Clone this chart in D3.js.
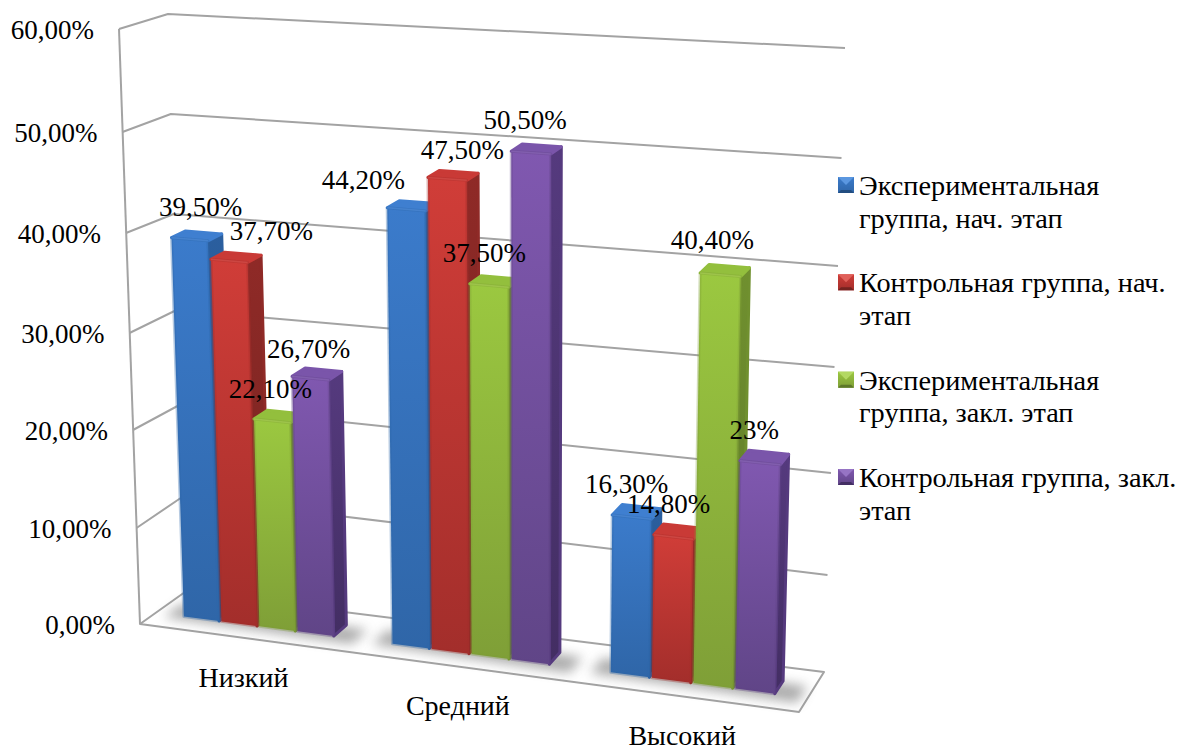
<!DOCTYPE html>
<html><head><meta charset="utf-8">
<script src="https://cdn.jsdelivr.net/npm/d3@7"></script>
<style>
html,body{margin:0;padding:0;background:#fff}
text{font-family:"Liberation Serif",serif;fill:#000}
</style></head><body>
<svg id="c" width="1178" height="749"></svg>
<script>
// ---- data ----
const categories = ["Низкий", "Средний", "Высокий"];
const seriesNames = ["Экспериментальная группа, нач. этап", "Контрольная группа, нач. этап", "Экспериментальная группа, закл. этап", "Контрольная группа, закл. этап"];
const legendLines = [["Экспериментальная", "группа, нач. этап"], ["Контрольная группа, нач.", "этап"], ["Экспериментальная", "группа, закл. этап"], ["Контрольная группа, закл.", "этап"]];
const expStart = [39.5, 44.2, 16.3];
const ctrlStart = [37.7, 47.5, 14.8];
const expEnd = [22.1, 37.5, 40.4];
const ctrlEnd = [26.7, 50.5, 23];
const expStartLabels = ["39,50%", "44,20%", "16,30%"];
const ctrlStartLabels = ["37,70%", "47,50%", "14,80%"];
const expEndLabels = ["22,10%", "37,50%", "40,40%"];
const ctrlEndLabels = ["26,70%", "50,50%", "23%"];
const tickValues = [0, 10, 20, 30, 40, 50, 60];
const tickLabels = ["0,00%", "10,00%", "20,00%", "30,00%", "40,00%", "50,00%", "60,00%"];

const seriesValues = [expStart, ctrlStart, expEnd, ctrlEnd];
const seriesLabels = [expStartLabels, ctrlStartLabels, expEndLabels, ctrlEndLabels];

// ---- styling / layout ----
const palette = [
 {top:"#3f7fd0",hi:"#5b97e0",a:"#3b7bcb",b:"#2f66a8",side:"#2b5f9f",sideB:"#224d80"},
 {top:"#c93a36",hi:"#e0605a",a:"#d03d38",b:"#a32e2b",side:"#8f2a27",sideB:"#742320"},
 {top:"#93bf3d",hi:"#b3d862",a:"#9bc840",b:"#7f9f37",side:"#70902f",sideB:"#5d7828"},
 {top:"#7a55aa",hi:"#9674c4",a:"#8058b0",b:"#604587",side:"#553a7e",sideB:"#432e63"}
];
const gridColor = "#a3a3a3";
const fontSize = 27;
const catFont = 28;
const legendFont = 28.3;

// wall geometry as scales of the value
const fx = d3.scaleLinear().domain([0,60]).range([140,119]);
const fy = d3.scaleLinear().domain(tickValues).range([624,528,430,333,233,132,29]);
const blx = d3.scaleLinear().domain([0,60]).range([185,168]);
const bly = d3.scaleLinear().domain(tickValues).range([592,497,405,310,214,114,14]);
const brx = d3.scaleLinear().domain([0,60]).range([824,845]);
const bry = d3.scaleLinear().domain(tickValues).range([672,575,473,367,266,158,48]);
const FL=[140,624], FR=[799,712], BL=[185,592], BR=[824,672];

function floorPt(u,d){
  const a=[FL[0]+(FR[0]-FL[0])*u, FL[1]+(FR[1]-FL[1])*u];
  const b=[BL[0]+(BR[0]-BL[0])*u, BL[1]+(BR[1]-BL[1])*u];
  return [a[0]+(b[0]-a[0])*d, a[1]+(b[1]-a[1])*d];
}
const warp = u => 0.931*u + 0.0675*u*u;
const lean = d3.scaleLinear().domain([0,1]).range([-0.34,0.27]);
const unit = d3.scaleLinear().domain([0,1]).range([9.5,10.2]);
// perspective correction of bar height along the value axis
const heightFix = d3.scaleLinear().domain([0,15,23,27,38,42,48,51,60]).range([0,-7,-7,-5,-2,0,2,5,5]);
const dF=0.35, dB=0.67;
const depthFlatten = 17/60; // the floor depth looks shallower higher up the wall
function barPt(u,d,v){
  const p=floorPt(u,d);
  return [p[0]+lean(u)*v, p[1]-unit(u)*v-heightFix(v)+(d-dB)*depthFlatten*v];
}

const catBand = d3.scaleBand().domain(d3.range(categories.length)).range([0,1]).paddingInner(0.265).paddingOuter(0.1325);
const serBand = d3.scaleBand().domain(d3.range(seriesValues.length)).range([0,catBand.bandwidth()]);

const svg=d3.select("#c");
const defs=svg.append("defs");
const blur=defs.append("filter").attr("id","sh").attr("x","-30%").attr("y","-60%").attr("width","160%").attr("height","220%");
blur.append("feGaussianBlur").attr("stdDeviation",6);
palette.forEach((p,i)=>{
  const g=defs.append("linearGradient").attr("id","f"+i).attr("x1",0).attr("x2",0).attr("y1",0).attr("y2",1);
  g.append("stop").attr("offset",0).attr("stop-color",p.a);
  g.append("stop").attr("offset",1).attr("stop-color",p.b);
  const s=defs.append("linearGradient").attr("id","s"+i).attr("x1",0).attr("x2",0).attr("y1",0).attr("y2",1);
  s.append("stop").attr("offset",0).attr("stop-color",p.side);
  s.append("stop").attr("offset",1).attr("stop-color",p.sideB);
});
const poly=d3.line();
const closed=pts=>poly(pts)+"Z";

// walls
const grid=svg.append("g").attr("fill","none").attr("stroke",gridColor).attr("stroke-width",2).attr("stroke-linejoin","round");
tickValues.forEach(v=>{
  if(v===0) return;
  grid.append("path").attr("d",poly([[fx(v),fy(v)],[blx(v),bly(v)],[brx(v),bry(v)]]));
});
grid.append("path").attr("d",poly([[fx(60),fy(60)],[fx(0),fy(0)]]));
grid.append("path").attr("d",closed([FL,FR,BR,BL]));

// shadows
categories.forEach((c,i)=>{
  const u0=warp(catBand(i)-0.025), u1=warp(catBand(i)+catBand.bandwidth()+0.035);
  svg.append("path").attr("d",closed([floorPt(u0,dF-0.08),floorPt(u1,dF-0.14),floorPt(u1,dB-0.05),floorPt(u0,dB)]))
    .attr("fill","#666").attr("opacity",0.55).attr("filter","url(#sh)");
});

// bars
const labelNudge=[
 [[11,-27],[-43,-24],[-5,-26]],
 [[42,-24],[15,-24],[-5,-25]],
 [[-2,-25],[-5,-27],[-8,-29]],
 [[-2,-23],[-6,-28],[-6,-26]]
];
const labelQueue=[];
categories.forEach((c,i)=>{
  seriesValues.forEach((vals,j)=>{
    const v=vals[i], p=palette[j];
    const u0=warp(catBand(i)+serBand(j)+0.002), u1=warp(catBand(i)+serBand(j)+serBand.bandwidth()-0.002);
    const g=svg.append("g").attr("stroke-linejoin","round").attr("stroke-width",3);
    const side=[barPt(u1,dF,0),barPt(u1,dB,0),barPt(u1,dB,v),barPt(u1,dF,v)];
    const top=[barPt(u0,dF,v),barPt(u1,dF,v),barPt(u1,dB,v),barPt(u0,dB,v)];
    const front=[barPt(u0,dF,0),barPt(u1,dF,0),barPt(u1,dF,v),barPt(u0,dF,v)];
    g.append("path").attr("d",closed(side)).attr("fill","url(#s"+j+")").attr("stroke",p.side);
    g.append("path").attr("d",closed(top)).attr("fill",p.top).attr("stroke",p.top);
    g.append("path").attr("d",closed(front)).attr("fill","url(#f"+j+")").attr("stroke",p.b).attr("stroke-opacity",0.35);
    g.append("path").attr("d",poly([barPt(u0,dF,v),barPt(u1,dF,v)])).attr("stroke",p.hi).attr("stroke-width",1.5).attr("stroke-opacity",0.4).attr("fill","none");
    const back=barPt((u0+u1)/2,dB,v), mid=barPt((u0+u1)/2,dF,v), n=labelNudge[j][i];
    labelQueue.push({x:mid[0]+n[0],y:mid[1]+(dB-dF)*depthFlatten*v+n[1],t:seriesLabels[j][i]});
  });
});

// value labels
svg.append("g").selectAll("text").data(labelQueue).join("text")
  .attr("x",d=>d.x).attr("y",d=>d.y).attr("text-anchor","middle").attr("font-size",fontSize).text(d=>d.t);

// axis labels
svg.append("g").selectAll("text").data(tickValues).join("text")
  .attr("x",v=>fx(v)-25).attr("y",v=>fy(v)+10).attr("text-anchor","end").attr("font-size",fontSize)
  .text((v,i)=>tickLabels[i]);

const catGap=49;
svg.append("g").selectAll("text").data(categories).join("text")
  .attr("x",(c,i)=>floorPt(warp(catBand(i)+catBand.bandwidth()/2),0)[0])
  .attr("y",(c,i)=>floorPt(warp(catBand(i)+catBand.bandwidth()/2),0)[1]+catGap)
  .attr("text-anchor","middle").attr("font-size",catFont).text(c=>c);

// legend
const legendY=d3.scalePoint().domain(d3.range(seriesNames.length)).range([195,487]);
const lh=32.5, mk=16;
seriesNames.forEach((name,j)=>{
  const y=legendY(j), p=palette[j], x0=838, y0=y-18;
  const g=svg.append("g").attr("aria-label",name);
  g.append("rect").attr("x",x0).attr("y",y0).attr("width",mk).attr("height",mk).attr("fill","url(#f"+j+")");
  g.append("path").attr("d",closed([[x0,y0],[x0+mk,y0],[x0+mk/2,y0+mk/2]])).attr("fill",p.hi);
  g.append("path").attr("d",closed([[x0,y0+mk],[x0+mk,y0+mk],[x0+mk-3,y0+mk-3],[x0+3,y0+mk-3]])).attr("fill",p.sideB);
  legendLines[j].forEach((l,k)=>{
    g.append("text").attr("x",859).attr("y",y+k*lh).attr("font-size",legendFont).text(l);
  });
});
</script></body></html>
